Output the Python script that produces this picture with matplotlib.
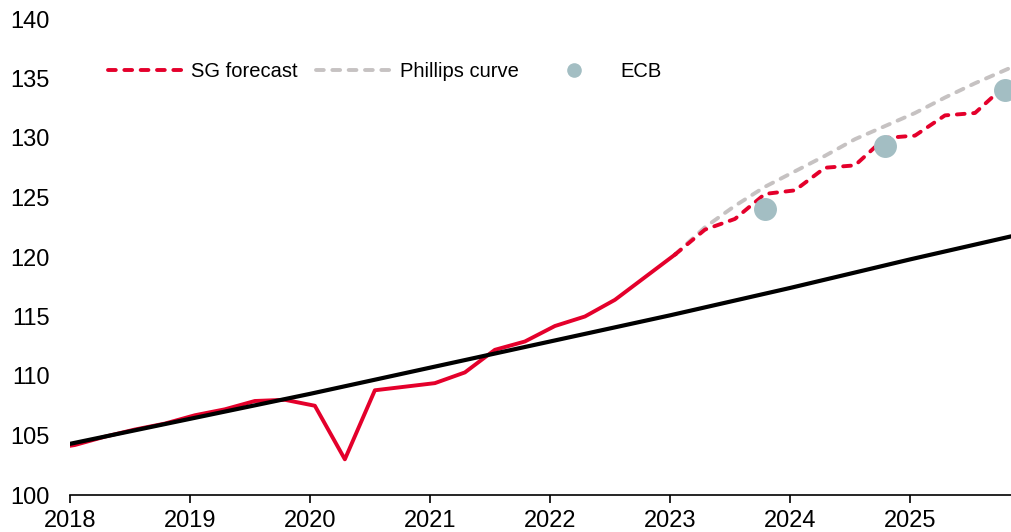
import matplotlib.pyplot as plt
from matplotlib.lines import Line2D

plt.rcParams['font.family'] = ['Liberation Sans', 'DejaVu Sans']

# quarterly observations (decimal year, index level)
hist_dates = [2017.79, 2018.04, 2018.29, 2018.54, 2018.79, 2019.04, 2019.29, 2019.54,
              2019.79, 2020.04, 2020.29, 2020.54, 2020.79, 2021.04, 2021.29, 2021.54,
              2021.79, 2022.04, 2022.29, 2022.54, 2022.79, 2023.04]
hist_values = [103.8, 104.2, 104.9, 105.5, 106.0, 106.7, 107.2, 107.9,
               108.0, 107.5, 103.0, 108.8, 109.1, 109.4, 110.3, 112.2,
               112.9, 114.2, 115.0, 116.4, 118.3, 120.2]

fc_dates = [2023.04, 2023.29, 2023.54, 2023.79, 2024.04, 2024.29, 2024.54, 2024.79,
            2025.04, 2025.29, 2025.54, 2025.79, 2026.04]
sg_forecast = [120.2, 122.3, 123.2, 125.3, 125.6, 127.5, 127.7, 130.0,
               130.2, 131.9, 132.1, 134.4, 135.0]
phillips = [120.2, 122.5, 124.3, 125.9, 127.2, 128.5, 129.9, 131.0,
            132.1, 133.4, 134.6, 135.7, 136.8]

ecb_dates = [2023.79, 2024.79, 2025.79]
ecb_values = [124.0, 129.3, 134.0]

trend_dates = [2018, 2019, 2020, 2021, 2022, 2023, 2024, 2025, 2026]
trend_values = [104.3, 106.4, 108.5, 110.7, 112.9, 115.1, 117.4, 119.8, 122.1]

years = list(range(2018, 2026))
red = '#e4002b'
grey = '#c6c2c2'
teal = '#a3bec3'
dash = (2.0, 2.2)

fig = plt.figure(figsize=(10.11, 5.32), dpi=100)
ax = fig.add_axes([70 / 1011, 37 / 532, 941 / 1011, 476 / 532])

ax.plot(fc_dates, phillips, color=grey, lw=2.8, dashes=dash,
        dash_capstyle='round', zorder=2)
ax.plot(fc_dates, sg_forecast, color=red, lw=2.8, dashes=dash,
        dash_capstyle='round', zorder=3)
ax.plot(hist_dates, hist_values, color=red, lw=2.8, zorder=3)
ax.plot(trend_dates, trend_values, color='black', lw=3.0, zorder=4)
ax.plot(ecb_dates, ecb_values, 'o', color=teal, ms=15.5, zorder=5)

ax.set_xlim(2018, 2025.84)
ax.set_ylim(100, 140)
ax.set_xticks(years)
ax.set_yticks(range(100, 141, 5))

for s in ['top', 'right', 'left']:
    ax.spines[s].set_visible(False)
ax.spines['bottom'].set_linewidth(1.2)
ax.tick_params(axis='x', length=6, width=1.2, labelsize=17, pad=5)
ax.tick_params(axis='y', length=0, labelsize=17, pad=14.5)

handles = [
    Line2D([], [], color=red, lw=2.8, dashes=dash, dash_capstyle='round'),
    Line2D([], [], color=grey, lw=2.8, dashes=dash, dash_capstyle='round'),
    Line2D([], [], color=teal, marker='o', ls='none', ms=9.5),
]
ax.legend(handles, ['SG forecast', 'Phillips curve', 'ECB'], ncol=3,
          loc='center left', bbox_to_anchor=(0.040, 0.889), frameon=False,
          fontsize=14.5, handlelength=3.7, handletextpad=0.45,
          columnspacing=0.9, borderpad=0, borderaxespad=0)

fig.savefig('out.png', dpi=100)
